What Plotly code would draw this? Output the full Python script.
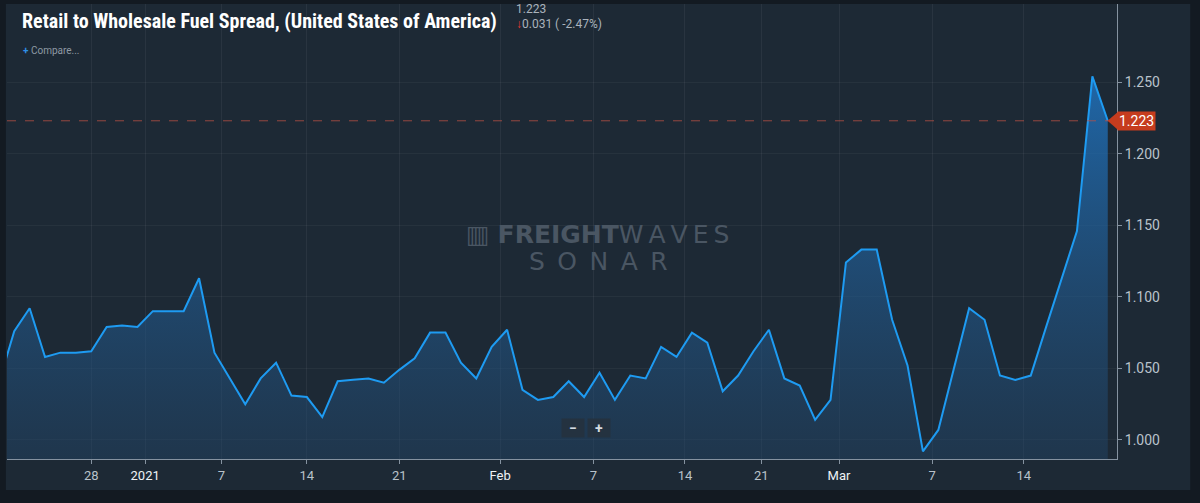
import plotly.graph_objects as go

# Retail to wholesale fuel spread, one value per observation (first one sits just left of the view)
spread = [
    1.040, 1.076, 1.092, 1.058, 1.061, 1.061, 1.062, 1.079, 1.080, 1.079,
    1.090, 1.090, 1.090, 1.113, 1.061, 1.043, 1.025, 1.043, 1.054, 1.031,
    1.030, 1.016, 1.041, 1.042, 1.043, 1.040, 1.049, 1.057, 1.075, 1.075,
    1.054, 1.043, 1.065, 1.077, 1.035, 1.028, 1.030, 1.041, 1.030, 1.047,
    1.028, 1.045, 1.043, 1.065, 1.058, 1.075, 1.068, 1.034, 1.045, 1.062,
    1.077, 1.043, 1.038, 1.014, 1.028, 1.124, 1.133, 1.133, 1.084, 1.052,
    0.992, 1.007, 1.049, 1.092, 1.084, 1.045, 1.042, 1.045, 1.079, 1.112,
    1.146, 1.254, 1.223,
]
obs = list(range(len(spread)))

# date ticks on the observation axis
tick_pos = [6.0, 9.5, 14.45, 20.0, 26.0, 32.55, 38.6, 44.55, 49.5, 54.55, 60.6, 66.55]
tick_lbl = ["28", "2021", "7", "14", "21", "Feb", "7", "14", "21", "Mar", "7", "14"]
major_lbl = {"2021", "Feb", "Mar"}

y_ticks = [1.000, 1.050, 1.100, 1.150, 1.200, 1.250]

last = spread[-1]
prev = spread[-2]
chg = last - prev
pct = chg / prev * 100

PANEL = "#1d2935"
BORDER = "#131a22"
LINE = "#1e9bf2"
TXT = "#b9c2cb"
WM = "#4a5663"

tick_text = [
    f"<span style='color:#eef2f5'>{t}</span>" if t in major_lbl else t
    for t in tick_lbl
]

fig = go.Figure()

fig.add_trace(go.Scatter(
    x=obs,
    y=spread,
    mode="lines",
    line=dict(color=LINE, width=2),
    fill="tozeroy",
    fillgradient=dict(
        type="vertical",
        start=0.987,
        stop=1.26,
        colorscale=[[0, "rgba(34,70,105,0.45)"], [1, "rgba(32,120,200,0.80)"]],
    ),
    hoverinfo="skip",
    showlegend=False,
))

shapes = [
    # chart panel
    dict(type="rect", xref="paper", yref="paper", x0=-0.001, x1=1.066, y0=-0.068, y1=1.0,
         fillcolor=PANEL, line_width=0, layer="below"),
    # last value guide
    dict(type="line", xref="paper", yref="y", x0=0, x1=1, y0=last, y1=last,
         line=dict(color="rgba(190,80,70,0.75)", width=1, dash="dash")),
    # arrow of the price tag
    dict(type="path", xref="paper", yref="y",
         path=f"M 0.9915,{last} L 1.001,{last + 0.0064} L 1.001,{last - 0.0064} Z",
         fillcolor="#c63c1e", line_width=0),
]

annotations = [
    dict(xref="paper", yref="paper", x=0.0117, y=0.993, xanchor="left", yanchor="top",
         text="<b>Retail to Wholesale Fuel Spread, (United States of America)</b>",
         showarrow=False,
         font=dict(family="Roboto Condensed, Roboto, sans-serif", size=20, color="#ffffff")),
    dict(xref="paper", yref="paper", x=0.4568, y=0.9895, xanchor="left", yanchor="middle",
         text=f"{last:.3f}", showarrow=False,
         font=dict(family="Roboto", size=12, color="#aab3bc")),
    dict(xref="paper", yref="paper", x=0.4568, y=0.9565, xanchor="left", yanchor="middle",
         text=f"<span style='color:#e23a32'>↓</span>{abs(chg):.3f} ( {pct:.2f}%)",
         showarrow=False,
         font=dict(family="Roboto", size=12, color="#aab3bc")),
    dict(xref="paper", yref="paper", x=0.0126, y=0.897, xanchor="left", yanchor="middle",
         text="<span style='color:#2f8fe6'><b>+</b></span> Compare...", showarrow=False,
         font=dict(family="Roboto", size=10, color="#8e99a4")),
    # watermark
    dict(xref="paper", yref="paper", x=0.532, y=0.4945, xanchor="center", yanchor="middle",
         text="▥ <b>FREIGHT</b>W\u2009A\u2009V\u2009E\u2009S",
         showarrow=False,
         font=dict(family="DejaVu Sans", size=25, color=WM)),
    dict(xref="paper", yref="paper", x=0.533, y=0.433, xanchor="center", yanchor="middle",
         text="S\u2002O\u2002N\u2002A\u2002R", showarrow=False,
         font=dict(family="DejaVu Sans", size=25, color=WM)),
    # zoom buttons
    dict(xref="paper", yref="paper", x=0.5099, y=0.068, xanchor="center", yanchor="middle",
         text="<b>−</b>", showarrow=False, width=20, height=16, bgcolor="#243240",
         font=dict(family="Roboto", size=14, color="#d4dae0")),
    dict(xref="paper", yref="paper", x=0.5333, y=0.068, xanchor="center", yanchor="middle",
         text="<b>+</b>", showarrow=False, width=20, height=16, bgcolor="#243240",
         font=dict(family="Roboto", size=14, color="#d4dae0")),
    # price tag
    dict(xref="paper", yref="y", x=1.0, y=last, xanchor="left", yanchor="middle",
         text=f"{last:.3f}", showarrow=False, bgcolor="#c63c1e", borderpad=1,
         font=dict(family="Roboto", size=14, color="#ffffff")),
]

fig.update_layout(
    width=1200,
    height=503,
    margin=dict(l=7, r=83, t=4, b=44),
    paper_bgcolor=BORDER,
    plot_bgcolor="rgba(0,0,0,0)",
    font=dict(family="Roboto", color=TXT),
    shapes=shapes,
    annotations=annotations,
    hovermode=False,
    xaxis=dict(
        range=[0.53, 72.6],
        tickmode="array",
        tickvals=tick_pos,
        ticktext=tick_text,
        showgrid=True,
        gridcolor="rgba(255,255,255,0.055)",
        showline=True,
        linecolor="#8592a0",
        linewidth=1,
        ticks="outside",
        ticklen=4,
        tickcolor="#8592a0",
        tickfont=dict(family="Roboto", size=13, color=TXT),
        zeroline=False,
        fixedrange=True,
    ),
    yaxis=dict(
        side="right",
        range=[0.9867, 1.3046],
        tickmode="array",
        tickvals=y_ticks,
        tickformat=".3f",
        showgrid=True,
        gridcolor="rgba(255,255,255,0.045)",
        showline=True,
        linecolor="#8592a0",
        linewidth=1,
        ticks="outside",
        ticklen=4,
        tickcolor="#8592a0",
        ticklabelstandoff=0,
        tickfont=dict(family="Roboto", size=14, color=TXT),
        zeroline=False,
        fixedrange=True,
    ),
)

fig.write_html("out.html", config={"displayModeBar": False},
               post_script="document.body.style.margin='0px';")
